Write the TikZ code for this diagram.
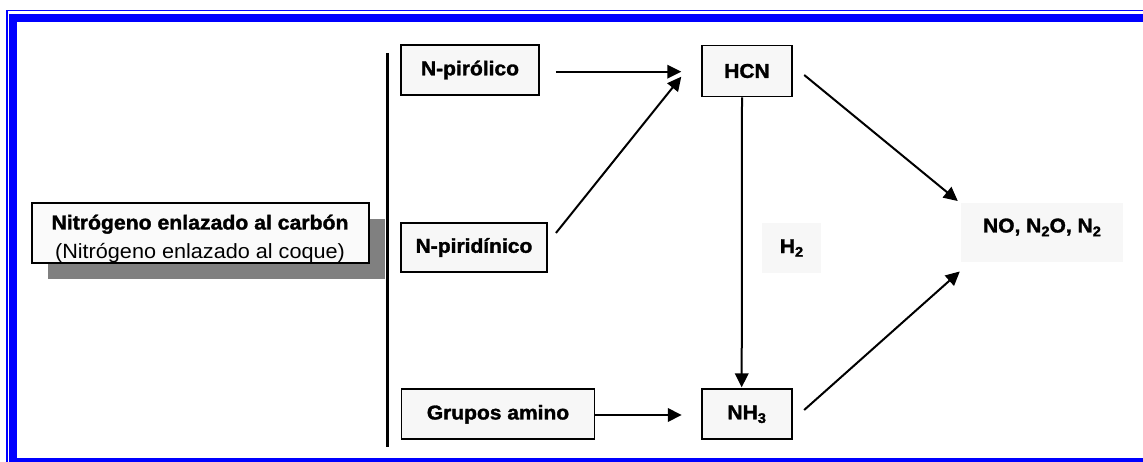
\documentclass[tikz,border=0pt]{standalone}
\usepackage{fontspec}
\setmainfont{Liberation Sans}
\newfontfamily\flowfont[FakeStretch=1.05,BoldFeatures={FakeBold=1.5}]{Liberation Sans}
\usetikzlibrary{arrows.meta,calc}
\definecolor{frameblue}{RGB}{0,0,255}
\definecolor{boxfill}{RGB}{247,247,247}
\definecolor{shadowgray}{RGB}{128,128,128}
% small lowered index for chemical formulas
\newcommand\idx[1]{\raisebox{-0.35ex}{\fontsize{14}{14}\selectfont #1}}

\begin{document}
\begin{tikzpicture}[x=1pt,y=-1pt,
  stepbox/.style={draw=black,line width=1.9pt,fill=boxfill,inner sep=0pt,
    font=\flowfont\bfseries\fontsize{20}{22}\selectfont},
  plainbox/.style={fill=boxfill,inner sep=0pt,
    font=\flowfont\bfseries\fontsize{20}{22}\selectfont},
  flow/.style={line width=2pt,-{Triangle[length=14pt,width=13.5pt]}}
]
\useasboundingbox (0,0) rectangle (1143,462);
\clip (0,0) rectangle (1143,462);
\fill[white] (0,0) rectangle (1143,462);

% double blue page frame
\draw[frameblue,line width=8pt] (13,18) rectangle (1160,462);
\draw[frameblue,line width=1.5pt] (6.75,10.75) rectangle (1170,472);

% source box with drop shadow
\fill[shadowgray] (48,219) rectangle (385,279);
\node[draw=black,line width=1.9pt,fill=gray!4,inner sep=0pt,
  minimum width=337.6pt,minimum height=60pt] (src) at (200.5,232.7) {};
\begin{scope}
  \clip (src.north west) rectangle (src.south east);
  \node[anchor=base,inner sep=0pt,font=\flowfont\bfseries\fontsize{20.2}{22}\selectfont]
    (srcA) at (200,229.5) {Nitrógeno enlazado al carbón};
  \node[anchor=base,inner sep=0pt,font=\flowfont\fontsize{20.6}{22}\selectfont]
    (srcB) at (200,258.5) {(Nitrógeno enlazado al coque)};
\end{scope}

% divider
\coordinate (divtop) at (387.5,53);
\coordinate (divbot) at (387.5,447);
\draw[line width=2.2pt] (divtop) -- (divbot);

% nitrogen groups
\node[stepbox,minimum width=138pt,minimum height=50pt] (pir) at (470,70) {N-pirólico};
\node[stepbox,minimum width=146pt,minimum height=49pt] (pyr) at (474,247.5) {N-piridínico};
\node[stepbox,minimum width=193pt,minimum height=50pt] (amino) at (498,414.3) {Grupos amino};

% intermediates
\node[stepbox,minimum width=89.5pt,minimum height=51pt] (hcn) at (747,71) {HCN};
\node[stepbox,minimum width=90pt,minimum height=50pt] (nh3) at (746.7,414.3) {NH\idx{3}};
\node[plainbox,minimum width=59pt,minimum height=50pt] (h2) at (791.5,248) {H\idx{2}};

% products
\node[plainbox,minimum width=162pt,minimum height=58.5pt,text height=13pt,text depth=13pt]
  (prod) at (1042,232.5) {NO, N\idx{2}O, N\idx{2}};

% connectors
\draw[flow] ($(pir.east)+(16,1.7)$) -- ($(hcn.west)+(-20,0.7)$);
\draw[flow] ($(pyr.east)+(8,-14.5)$) -- ($(hcn.west)+(-20,5.7)$);
\draw[flow] ($(amino.east)+(0,0.7)$) -- ($(nh3.west)+(-19,0.7)$);
\draw[flow] ($(hcn.south)+(-5,0)$) -- ($(nh3.north)+(-5,-1)$);
\draw[flow] ($(hcn.east)+(11.5,4)$) -- ($(prod.north west)+(-3,-2)$);
\draw[flow] ($(nh3.east)+(11.5,-4.3)$) -- ($(prod.south west)+(-1,9.5)$);
\end{tikzpicture}
\end{document}
